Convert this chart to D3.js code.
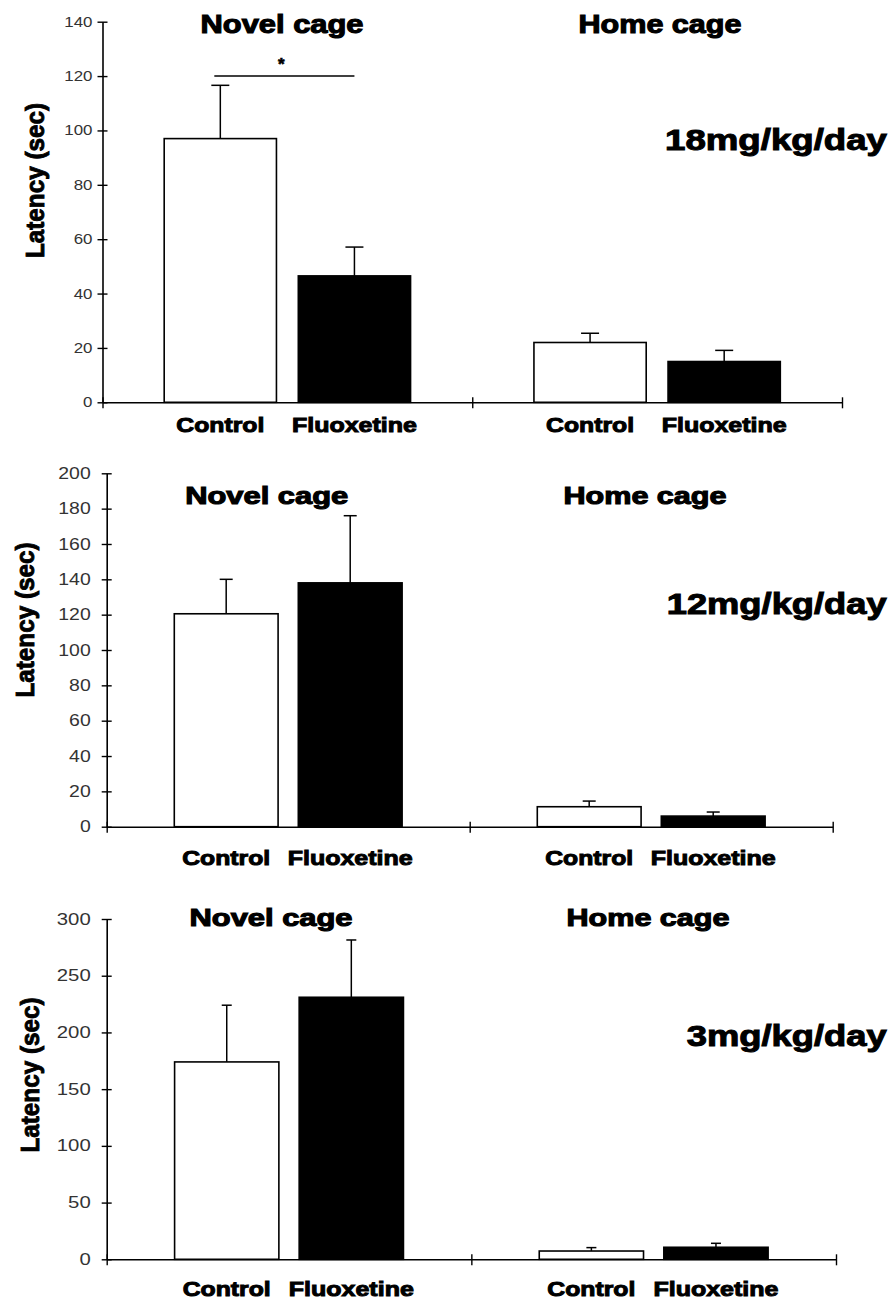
<!DOCTYPE html>
<html>
<head>
<meta charset="utf-8">
<script src="https://cdn.jsdelivr.net/npm/d3@7"></script>
<style>
  body { margin: 0; background: #fff; }
</style>
</head>
<body>
<div class="figure"></div>
<script>
// categories
var groups = ["Novel cage", "Home cage"];
var treatments = ["Control", "Fluoxetine"];
var doseLabels = ["18mg/kg/day", "12mg/kg/day", "3mg/kg/day"];
var yLabel = "Latency (sec)";

// y axis ranges and tick steps for each dose panel
var yMaxes = [140, 200, 300];
var yTickSteps = [20, 20, 50];

// values in order: Novel Control, Novel Fluoxetine, Home Control, Home Fluoxetine
var means18 = [97, 46.5, 22, 15];
var errors18 = [19.6, 10.6, 3.4, 4.1];
var means12 = [120.5, 138, 11.3, 6];
var errors12 = [19.5, 38, 3.2, 2.3];
var means3 = [174, 231, 7.3, 10.6];
var errors3 = [50, 50.5, 3, 3.5];

// significance mark (18mg panel, novel cage)
var sigLabel = "*";
var sigLevel = 120;

var allMeans = [means18, means12, means3];
var allErrors = [errors18, errors12, errors3];

// where every panel sits on the page
var layouts = [
    { left: 102.5, right: 842, top: 21.7, bottom: 402.3, padOuter: 0.46, tickPad: 10, tickFont: 14, charW: 9.4,
      titleX: [282, 660], titleY: 33, titleFont: 26, doseX: 776, doseY: 150, doseW: 222,
      labelY: 432, yLabX: 44, yLabY: 180.5, cap: 9 },
    { left: 106.7, right: 832.7, top: 473.3, bottom: 826.7, padOuter: 0.545, tickPad: 16, tickFont: 16, charW: 10.8,
      titleX: [266.7, 645], titleY: 504, titleFont: 24, doseX: 776.7, doseY: 614, doseW: 220,
      labelY: 865, yLabX: 33.5, yLabY: 620, cap: 6.5 },
    { left: 106.7, right: 836, top: 919, bottom: 1259.3, padOuter: 0.545, tickPad: 16, tickFont: 16, charW: 11.3,
      titleX: [271, 648], titleY: 926, titleFont: 24, doseX: 786.7, doseY: 1046, doseW: 200,
      labelY: 1296, yLabX: 38.5, yLabY: 1075, cap: 5 }
];

var fills = { "Control": "#fff", "Fluoxetine": "#000" };
var labelWidths = { "Control": 88, "Fluoxetine": 125 };
var boldFont = "'Liberation Sans', Arial, sans-serif";

var svg = d3.select(".figure")
    .append("svg")
    .attr("width", 895)
    .attr("height", 1302);

function drawPanel(p) {
    var L = layouts[p];
    var means = allMeans[p];
    var errors = allErrors[p];
    var g = svg.append("g");

    // y scale + axis
    var y = d3.scaleLinear()
        .domain([0, yMaxes[p]])
        .range([L.bottom, L.top]);

    var yAxis = d3.axisLeft(y)
        .tickValues(d3.range(0, yMaxes[p] + 1, yTickSteps[p]))
        .tickSize(5)
        .tickSizeOuter(0)
        .tickPadding(L.tickPad - 5);

    var yG = g.append("g")
        .attr("transform", `translate(${L.left},0)`)
        .call(yAxis)
        .attr("font-family", boldFont)
        .attr("font-size", L.tickFont);
    yG.select(".domain").attr("stroke", "#000").attr("stroke-width", 1.6);
    yG.selectAll(".tick line").attr("x1", 5).attr("stroke", "#000").attr("stroke-width", 1.4);
    yG.selectAll(".tick text")
        .attr("fill", "#333")
        .attr("textLength", d => String(d).length * L.charW)
        .attr("lengthAdjust", "spacingAndGlyphs");

    // group and bar scales
    var xGroup = d3.scaleBand()
        .domain(groups)
        .range([L.left, L.right])
        .padding(0);
    var xInner = d3.scaleBand()
        .domain(treatments)
        .range([0, xGroup.bandwidth()])
        .paddingInner(0.163)
        .paddingOuter(L.padOuter);

    // x axis with ticks on the group borders
    var xEdges = d3.scaleLinear()
        .domain([0, groups.length])
        .range([L.left, L.right]);
    var xAxis = d3.axisBottom(xEdges)
        .tickValues(d3.range(0, groups.length + 1))
        .tickFormat("")
        .tickSize(6)
        .tickSizeOuter(0);
    var xG = g.append("g")
        .attr("transform", `translate(0,${L.bottom})`)
        .call(xAxis);
    xG.select(".domain").attr("stroke", "#000").attr("stroke-width", 1.6);
    xG.selectAll(".tick line").attr("y1", -5).attr("stroke", "#000").attr("stroke-width", 1.4);

    // rows for bars
    var rows = [];
    groups.forEach(function(grp, i) {
        treatments.forEach(function(t, j) {
            rows.push({ group: grp, treatment: t, mean: means[i * 2 + j], err: errors[i * 2 + j] });
        });
    });
    var cx = d => xGroup(d.group) + xInner(d.treatment) + xInner.bandwidth() / 2;

    // error bars (upper only)
    g.selectAll(".err")
        .data(rows)
        .enter()
        .append("line")
        .attr("x1", cx)
        .attr("x2", cx)
        .attr("y1", d => y(d.mean))
        .attr("y2", d => y(d.mean + d.err))
        .attr("stroke", "#000")
        .attr("stroke-width", 1.5);
    g.selectAll(".cap")
        .data(rows)
        .enter()
        .append("line")
        .attr("x1", d => cx(d) - L.cap)
        .attr("x2", d => cx(d) + L.cap)
        .attr("y1", d => y(d.mean + d.err))
        .attr("y2", d => y(d.mean + d.err))
        .attr("stroke", "#000")
        .attr("stroke-width", 1.5);

    // bars
    g.selectAll(".bar")
        .data(rows)
        .enter()
        .append("rect")
        .attr("x", d => xGroup(d.group) + xInner(d.treatment))
        .attr("y", d => y(d.mean))
        .attr("width", xInner.bandwidth())
        .attr("height", d => y(0) - y(d.mean))
        .attr("fill", d => fills[d.treatment])
        .attr("stroke", "#000")
        .attr("stroke-width", 1.6);

    // treatment labels under the bars
    g.selectAll(".xlab")
        .data(rows)
        .enter()
        .append("text")
        .attr("x", cx)
        .attr("y", L.labelY)
        .attr("text-anchor", "middle")
        .attr("font-family", boldFont)
        .attr("font-weight", "bold")
        .attr("font-size", 21)
        .attr("stroke", "#000")
        .attr("stroke-width", 1)
        .attr("textLength", d => labelWidths[d.treatment])
        .attr("lengthAdjust", "spacingAndGlyphs")
        .text(d => d.treatment);

    // group titles
    g.selectAll(".title")
        .data(groups)
        .enter()
        .append("text")
        .attr("x", (d, i) => L.titleX[i])
        .attr("y", L.titleY)
        .attr("text-anchor", "middle")
        .attr("font-family", boldFont)
        .attr("font-weight", "bold")
        .attr("font-size", L.titleFont)
        .attr("stroke", "#000")
        .attr("stroke-width", 1.1)
        .attr("textLength", 163)
        .attr("lengthAdjust", "spacingAndGlyphs")
        .text(d => d);

    // dose label
    g.append("text")
        .attr("x", L.doseX)
        .attr("y", L.doseY)
        .attr("text-anchor", "middle")
        .attr("font-family", boldFont)
        .attr("font-weight", "bold")
        .attr("font-size", 29)
        .attr("stroke", "#000")
        .attr("stroke-width", 1)
        .attr("textLength", L.doseW)
        .attr("lengthAdjust", "spacingAndGlyphs")
        .text(doseLabels[p]);

    // y axis title
    g.append("text")
        .attr("transform", `translate(${L.yLabX},${L.yLabY}) rotate(-90)`)
        .attr("text-anchor", "middle")
        .attr("font-family", boldFont)
        .attr("font-weight", "bold")
        .attr("font-size", 26)
        .attr("stroke", "#000")
        .attr("stroke-width", 0.9)
        .attr("textLength", 155)
        .attr("lengthAdjust", "spacingAndGlyphs")
        .text(yLabel);

    // significance bracket for the highest dose
    if (p === 0) {
        var a = rows[0], b = rows[1];
        g.append("line")
            .attr("x1", cx(a) - 6)
            .attr("x2", cx(b))
            .attr("y1", y(sigLevel))
            .attr("y2", y(sigLevel))
            .attr("stroke", "#000")
            .attr("stroke-width", 1.5);
        g.append("text")
            .attr("x", (cx(a) + cx(b)) / 2 - 6)
            .attr("y", y(sigLevel) - 6)
            .attr("text-anchor", "middle")
            .attr("font-family", boldFont)
            .attr("font-weight", "bold")
            .attr("font-size", 17)
            .attr("stroke", "#000")
            .attr("stroke-width", 0.6)
            .text(sigLabel);
    }
}

for (var p = 0; p < layouts.length; p++) {
    drawPanel(p);
}
</script>
</body>
</html>
